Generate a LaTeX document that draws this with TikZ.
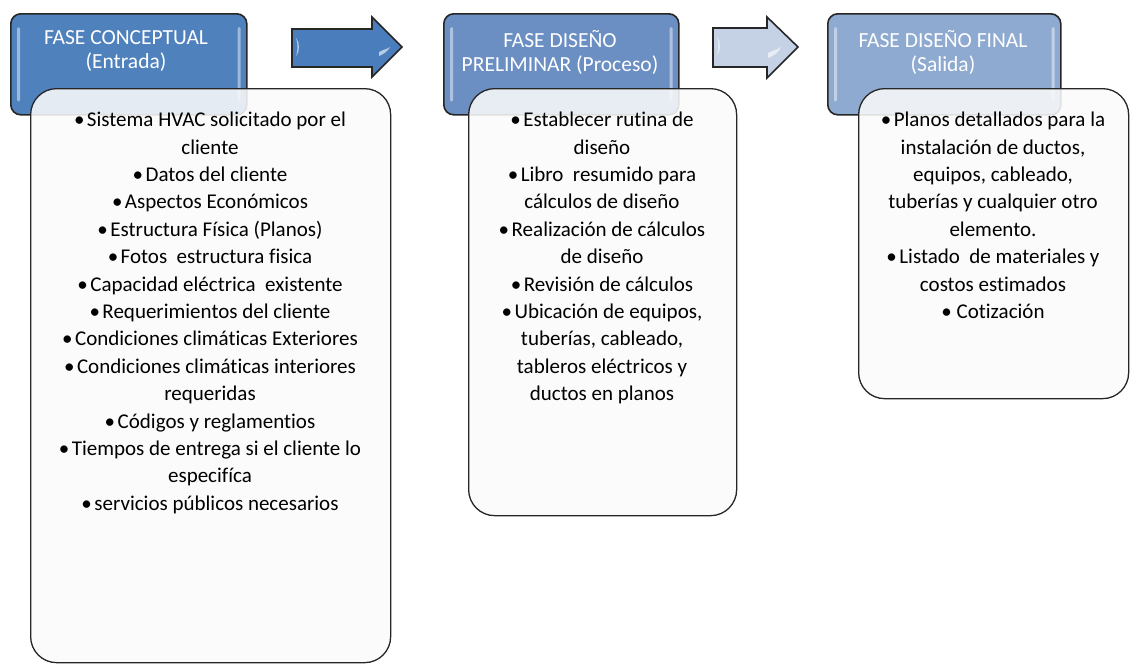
\documentclass[tikz,border=0pt]{standalone}
\usepackage{fontspec}
\setmainfont{Carlito}[Ligatures=NoCommon]
\definecolor{hdA}{HTML}{4F81BD}
\definecolor{hdB}{HTML}{6C8FC3}
\definecolor{hdC}{HTML}{8EAAD1}
\definecolor{arA}{HTML}{4A7DBC}
\definecolor{arB}{HTML}{C5D2E6}
\definecolor{edge}{HTML}{262626}
\definecolor{boxfill}{HTML}{FAFAFA}
\newcommand{\bul}{•\hspace{2.5pt}}
\tikzset{
  header/.style={draw=edge, line width=1.6pt, rounded corners=10pt, anchor=north west, inner sep=0pt},
  gloss/.style={fill=white, fill opacity=0.45, draw=none, rounded corners=1.5pt},
  content/.style={draw=edge, line width=1.3pt, rounded corners=26pt, fill=boxfill, fill opacity=0.88, anchor=north west, inner sep=0pt},
  htext/.style={text=white, font=\fontsize{21.5}{24.5}\selectfont, align=center, anchor=north, inner sep=0pt},
  ctext/.style={text=black, font=\fontsize{21}{27.4}\selectfont, align=center, anchor=north, inner sep=0pt},
  blockarrow/.style={draw=edge, line width=1.6pt, line join=miter},
  glint/.style={fill=white, fill opacity=0.6, draw=none},
}
\begin{document}
\begin{tikzpicture}[x=1pt,y=-1pt]
\useasboundingbox (0,0) rectangle (1130,664);
% headers
\node[header, fill=hdA, minimum width=236pt, minimum height=101pt] (h1) at (10,13) {};
\node[header, fill=hdB, minimum width=235pt, minimum height=101pt] (h2) at (443,13) {};
\node[header, fill=hdC, minimum width=233pt, minimum height=101pt] (h3) at (827,13) {};
% gloss strips
\foreach \h in {h1,h2,h3}{
  \fill[gloss] ([xshift=7pt,yshift=-14pt]\h.north west) rectangle ([xshift=10pt,yshift=14pt]\h.south west);
  \fill[gloss] ([xshift=-10pt,yshift=-14pt]\h.north east) rectangle ([xshift=-7pt,yshift=14pt]\h.south east);
}
\node[htext] (t1) at (126,30) {FASE CONCEPTUAL\\(Entrada)};
\node[htext] (t2) at (560,30) {FASE DISEÑO\\PRELIMINAR (Proceso)};
\node[htext] (t3) at (943,30) {FASE DISEÑO FINAL\\(Salida)};
% arrows
\coordinate (a1tip) at (402,47);
\coordinate (a2tip) at (798,47);
\filldraw[blockarrow, fill=arA] (292,29) -- (372,29) -- (372,17) -- (a1tip) -- (372,77) -- (372,67) -- (292,67) -- cycle;
\filldraw[blockarrow, fill=arB] (713,28) -- (767,28) -- (767,17) -- (a2tip) -- (767,78) -- (767,67) -- (713,67) -- cycle;
\fill[glint] (296,38) .. controls (300,42) and (300,52) .. (296,56) .. controls (298,50) and (298,44) .. (296,38) -- cycle;
\fill[glint] (717,37) .. controls (721,41) and (721,51) .. (717,55) .. controls (719,49) and (719,43) .. (717,37) -- cycle;
\fill[glint] (379,52) .. controls (384,49) and (388,49) .. (390,47) .. controls (388,51) and (384,54) .. (379,56) -- cycle;
\fill[glint] (768,53) .. controls (773,50) and (777,50) .. (781,47) .. controls (779,52) and (774,56) .. (768,58) -- cycle;
% content boxes
\node[content, minimum width=360pt, minimum height=574pt] (c1) at (30,88) {};
\node[content, minimum width=268pt, minimum height=427pt] (c2) at (468,88) {};
\node[content, minimum width=270pt, minimum height=310pt] (c3) at (858,88) {};
% contents
\node[ctext] (x1) at (210,112) {\bul Sistema HVAC solicitado por el\\ cliente\\
\bul Datos del cliente\\
\bul Aspectos Económicos\\
\bul Estructura Física (Planos)\\
\bul Fotos\ \ estructura fisica\\
\bul Capacidad eléctrica\ \ existente\\
\bul Requerimientos del cliente\\
\bul Condiciones climáticas Exteriores\\
\bul Condiciones climáticas interiores\\ requeridas\\
\bul Códigos y reglamentios\\
\bul Tiempos de entrega si el cliente lo\\ especifíca\\
\bul servicios públicos necesarios};
\node[ctext] (x2) at (602,112) {\bul Establecer rutina de\\ diseño\\
\bul Libro\ \ resumido para\\ cálculos de diseño\\
\bul Realización de cálculos\\ de diseño\\
\bul Revisión de cálculos\\
\bul Ubicación de equipos,\\ tuberías, cableado,\\ tableros eléctricos y\\ ductos en planos};
\node[ctext] (x3) at (993,112) {\bul Planos detallados para la\\ instalación de ductos,\\ equipos, cableado,\\ tuberías y cualquier otro\\ elemento.\\
\bul Listado\ \ de materiales y\\ costos estimados\\
• Cotización};
\end{tikzpicture}
\end{document}
